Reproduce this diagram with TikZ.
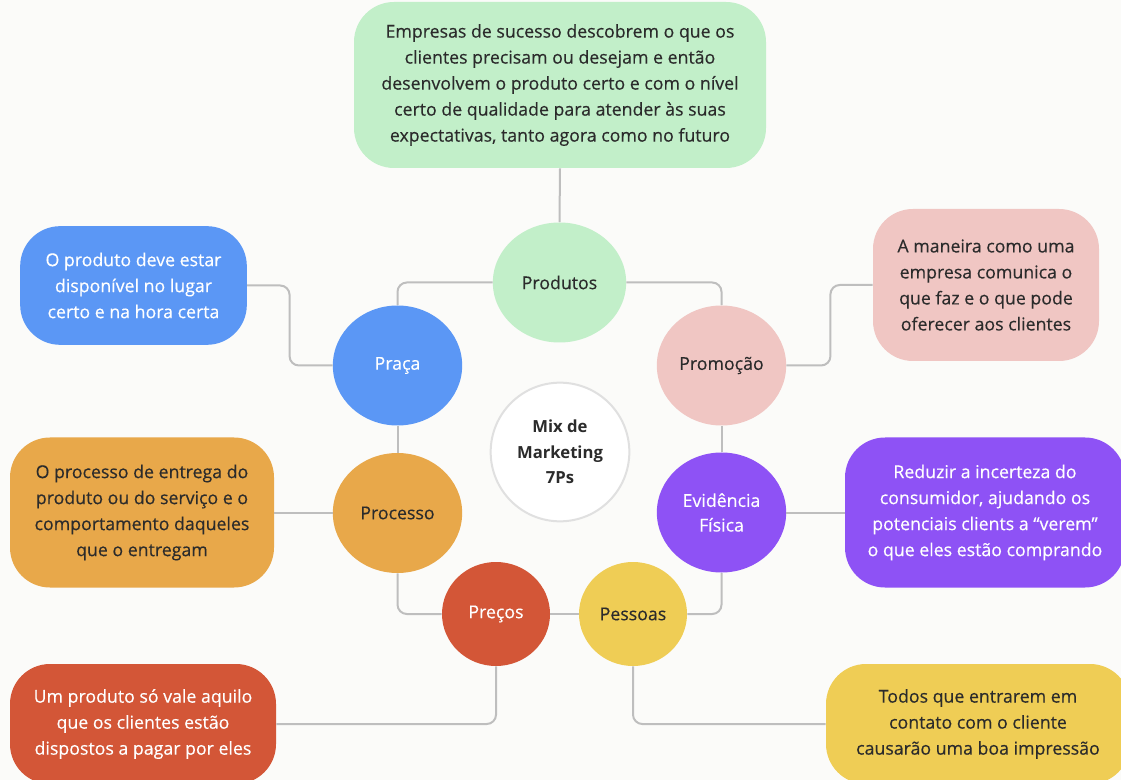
\documentclass[tikz,border=0pt]{standalone}
\usepackage{fontspec}
\setmainfont{Open Sans}
\newfontfamily\medf{Open Sans}[FakeBold=0.35]
\usetikzlibrary{shapes.geometric}
\definecolor{bgc}{RGB}{251,251,249}
\definecolor{txt}{RGB}{43,43,43}
\definecolor{lnc}{RGB}{190,190,190}
\definecolor{cgreen}{RGB}{194,239,201}
\definecolor{cblue}{RGB}{91,151,245}
\definecolor{cpink}{RGB}{240,198,195}
\definecolor{corange}{RGB}{232,168,74}
\definecolor{cpurple}{RGB}{142,82,245}
\definecolor{cred}{RGB}{211,86,55}
\definecolor{cyellow}{RGB}{239,205,85}
\tikzset{
  pcircle/.style={ellipse, draw=none, minimum width=97pt, minimum height=90pt,
    inner sep=0pt, align=center, font=\medf\fontsize{13.3}{18.5}\selectfont},
  infobox/.style={rectangle, rounded corners=30pt, draw=none, inner sep=0pt,
    align=center, font=\medf\fontsize{13.3}{19.5}\selectfont},
  conn/.style={draw=lnc, line width=1.5pt, rounded corners=7pt},
}
\begin{document}
\begin{tikzpicture}[x=0.75pt,y=-0.75pt]
\useasboundingbox (0,0) rectangle (1121,780);
\fill[bgc] (0,0) rectangle (1121,780);

% central hub
\node[circle, draw=black!12, line width=1.5pt, fill=white, minimum size=104pt,
  inner sep=0pt, align=center, font=\bfseries\fontsize{12.5}{19}\selectfont, text=txt]
  (mix) at (560,452) {Mix de\\Marketing\\7Ps};

% the seven Ps
\node[pcircle, fill=cgreen, text=txt, minimum width=100pt] (prod) at (559.5,282.5) {Produtos};
\node[pcircle, fill=cblue, text=white] (praca) at (397.5,365.5) {Praça};
\node[pcircle, fill=cpink, text=txt] (promo) at (721.5,365.5) {Promoção};
\node[pcircle, fill=corange, text=txt] (proc) at (397.5,513) {Processo};
\node[pcircle, fill=cpurple, text=white] (evid) at (721.5,512.5) {Evidência\\Física};
\node[pcircle, fill=cred, text=white, minimum width=81pt, minimum height=78pt] (preco) at (496,614) {Preços};
\node[pcircle, fill=cyellow, text=txt, minimum width=81pt, minimum height=78pt] (pess) at (633,614) {Pessoas};

% descriptions
\node[infobox, fill=cgreen, text=txt, minimum width=309pt, minimum height=124.5pt] (dprod) at (560,85)
  {Empresas de sucesso descobrem o que os\\clientes precisam ou desejam e então\\desenvolvem o produto certo e com o nível\\certo de qualidade para atender às suas\\expectativas, tanto agora como no futuro};
\node[infobox, fill=cblue, text=white, minimum width=170pt, minimum height=89pt] (dpraca) at (133.5,285.5)
  {O produto deve estar\\disponível no lugar\\certo e na hora certa};
\node[infobox, fill=cpink, text=txt, minimum width=169.5pt, minimum height=114pt] (dpromo) at (986,285)
  {A maneira como uma\\empresa comunica o\\que faz e o que pode\\oferecer aos clientes};
\node[infobox, fill=corange, text=txt, minimum width=198pt, minimum height=112.5pt] (dproc) at (142,512.5)
  {O processo de entrega do\\produto ou do serviço e o\\comportamento daqueles\\que o entregam};
\node[infobox, fill=cpurple, text=white, minimum width=210pt, minimum height=112.5pt] (devid) at (985,512.5)
  {Reduzir a incerteza do\\consumidor, ajudando os\\potenciais clients a “verem”\\o que eles estão comprando};
\node[infobox, fill=cred, text=white, minimum width=199.5pt, minimum height=90pt] (dpreco) at (143,724)
  {Um produto só vale aquilo\\que os clientes estão\\dispostos a pagar por eles};
\node[infobox, fill=cyellow, text=txt, minimum width=228pt, minimum height=90pt] (dpess) at (978,724)
  {Todos que entrarem em\\contato com o cliente\\causarão uma boa impressão};

% connectors
\draw[conn] (dprod.south) -- (prod.north);
\draw[conn] (prod.west) -| (praca.north);
\draw[conn] (prod.east) -| (promo.north);
\draw[conn] (praca.south) -- (proc.north);
\draw[conn] (promo.south) -- (evid.north);
\draw[conn] (proc.south) |- (preco.west);
\draw[conn] (preco.east) -- (pess.west);
\draw[conn] (pess.east) -| (evid.south);
\draw[conn] (praca.west) -- ++(-43,0) |- (dpraca.east);
\draw[conn] (promo.east) -- ++(44,0) |- (dpromo.west);
\draw[conn] (proc.west) -- (proc.west -| dproc.east);
\draw[conn] (evid.east) -- (evid.east -| devid.west);
\draw[conn] (preco.south) |- (dpreco.east);
\draw[conn] (pess.south) |- (dpess.west);
\end{tikzpicture}
\end{document}
